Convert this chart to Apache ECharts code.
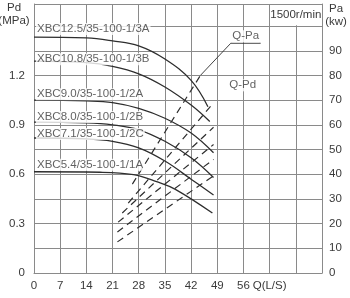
<!DOCTYPE html>
<html><head><meta charset="utf-8">
<script src="https://cdn.jsdelivr.net/npm/echarts@6/dist/echarts.min.js"></script>
<style>html,body{margin:0;padding:0;background:#fff}#c{width:350px;height:298px}</style>
</head><body><div id="c"></div>
<script>
// ---------- data ----------
const qTickLabels = {0:'0',7:'7',14:'14',21:'21',28:'28',35:'35',42:'42',49:'49',56:'56',63:'Q(L/S)'};
const pdTickLabels = ['0','0.3','0.6','0.9','1.2'];
const paTickLabels = ['0','10','20','30','40','50','60','70','80','90'];
const pumpNames = ['XBC12.5/35-100-1/3A','XBC10.8/35-100-1/3B','XBC9.0/35-100-1/2A','XBC8.0/35-100-1/2B','XBC7.1/35-100-1/2C','XBC5.4/35-100-1/1A'];
// Q-Pd curves [Q (L/s), Pd (MPa)]
const pd3A = [[0,1.433],[14,1.428],[21,1.41],[28,1.38],[35,1.30],[42,1.17],[46.5,1.01]];
const pd3B = [[0,1.287],[14,1.278],[21,1.255],[28,1.21],[35,1.13],[42,1.02],[47,0.92]];
const pd2A = [[0,1.05],[14,1.045],[21,1.035],[28,1.0],[35,0.94],[42,0.85],[48,0.73]];
const pd2B = [[0,0.917],[14,0.912],[21,0.90],[28,0.87],[35,0.80],[42,0.70],[48,0.58]];
const pd2C = [[0,0.82],[14,0.815],[21,0.80],[28,0.76],[35,0.68],[42,0.57],[48,0.474]];
const pd1A = [[0,0.615],[17.7,0.612],[26.6,0.597],[33,0.553],[37.8,0.508],[47.7,0.364]];
// Q-Pa lines [Q (L/s), Pa (kW)]
const pa3A = [[26.3,36],[44.5,80]];
const pa3B = [[25.2,28.3],[47.5,68]];
const pa2A = [[23.6,24.3],[48,59]];
const pa2B = [[22.5,20.6],[48,52]];
const pa2C = [[22.3,16.6],[48,46]];
const pa1A = [[22.3,12.6],[47.7,39]];
const qPaLeader = [[44.5,80],[52.6,93],[60.6,93]];

// ---------- chart ----------
const chart = echarts.init(document.getElementById('c'), null, {renderer:'canvas'});
const txt = '#3a3a3a', gridC = '#8a8a8a', curveC = '#2e2e2e';
const FONT = 'Liberation Sans, Arial, sans-serif';
const pdSets = [pd3A,pd3B,pd2A,pd2B,pd2C,pd1A];
const paSets = [pa3A,pa3B,pa2A,pa2B,pa2C,pa1A];
const labelDy = [-8,-2,-6,-5,-4,-7];
const series = [];
pdSets.forEach((d,i)=>{
  series.push({type:'line',name:pumpNames[i],xAxisIndex:0,yAxisIndex:0,data:d,smooth:0.4,symbol:'none',
    lineStyle:{color:curveC,width:1.3},z:3});
  series.push({type:'scatter',xAxisIndex:0,yAxisIndex:0,data:[d[0]],symbolSize:0,silent:true,z:5,
    label:{show:true,formatter:pumpNames[i],position:'right',distance:2,offset:[0,labelDy[i]],
      color:txt,fontFamily:FONT,fontSize:11.5,backgroundColor:'#fff',padding:[0,1,0,1]}});
});
paSets.forEach((d)=>{
  series.push({type:'line',xAxisIndex:0,yAxisIndex:1,data:d,symbol:'none',
    lineStyle:{color:curveC,width:1.2,type:[7,5]},z:3});
});
series.push({type:'line',xAxisIndex:0,yAxisIndex:1,data:qPaLeader,symbol:'none',lineStyle:{color:curveC,width:0.9},z:3});
series.push({type:'scatter',xAxisIndex:0,yAxisIndex:1,data:[[56.6,93]],symbolSize:0,z:5,
  label:{show:true,formatter:'Q-Pa',position:'top',distance:1,color:txt,fontFamily:FONT,fontSize:11.5,backgroundColor:'#fff'}});
series.push({type:'scatter',xAxisIndex:0,yAxisIndex:0,data:[[55.8,1.14]],symbolSize:0,z:5,
  label:{show:true,formatter:'Q-Pd',position:'inside',color:txt,fontFamily:FONT,fontSize:11.5,backgroundColor:'#fff'},
  markArea:{silent:true,itemStyle:{color:'#fff'},label:{show:true,position:'inside',formatter:'1500r/min',color:txt,fontFamily:FONT,fontSize:11.5},
    data:[[{coord:[65.5,1.505]},{coord:[74.5,1.628]}]]}});

chart.setOption({
  animation:false,
  backgroundColor:'#fff',
  grid:{left:34,right:28,top:4,bottom:25,containLabel:false},
  xAxis:{type:'value',min:0,max:77,interval:7,
    axisLine:{show:true,lineStyle:{color:gridC,width:1}},axisTick:{show:false},
    splitLine:{show:true,lineStyle:{color:gridC,width:1}},
    axisLabel:{color:txt,fontFamily:FONT,fontSize:11.5,margin:7,showMaxLabel:true,
      formatter:v=>qTickLabels[v]!==undefined?qTickLabels[v]:''}},
  yAxis:[
    {type:'value',min:0,max:1.634,interval:0.15,position:'left',
      axisLine:{show:true,lineStyle:{color:gridC}},axisTick:{show:false},
      splitLine:{show:true,lineStyle:{color:gridC,width:1}},
      axisLabel:{color:txt,fontFamily:FONT,fontSize:11.5,margin:9,
        formatter:v=>{const i=Math.round(v/0.3);return (Math.abs(v-i*0.3)<1e-6&&i<pdTickLabels.length)?pdTickLabels[i]:'';}}},
    {type:'value',min:0,max:108.9,interval:10,position:'right',
      axisLine:{show:true,lineStyle:{color:gridC}},axisTick:{show:false},splitLine:{show:false},
      axisLabel:{color:txt,fontFamily:FONT,fontSize:11.5,margin:7,
        formatter:v=>{const i=Math.round(v/10);return (Math.abs(v-i*10)<1e-6&&i<paTickLabels.length)?paTickLabels[i]:'';}}}
  ],
  graphic:[
    {type:'text',x:14,y:1,style:{text:'Pd\n(MPa)',fill:txt,font:'11.5px '+FONT,align:'center',lineHeight:13}},
    {type:'text',x:336,y:2,style:{text:'Pa\n(kw)',fill:txt,font:'11.5px '+FONT,align:'center',lineHeight:13}}
  ],
  series:series
});
</script></body></html>
